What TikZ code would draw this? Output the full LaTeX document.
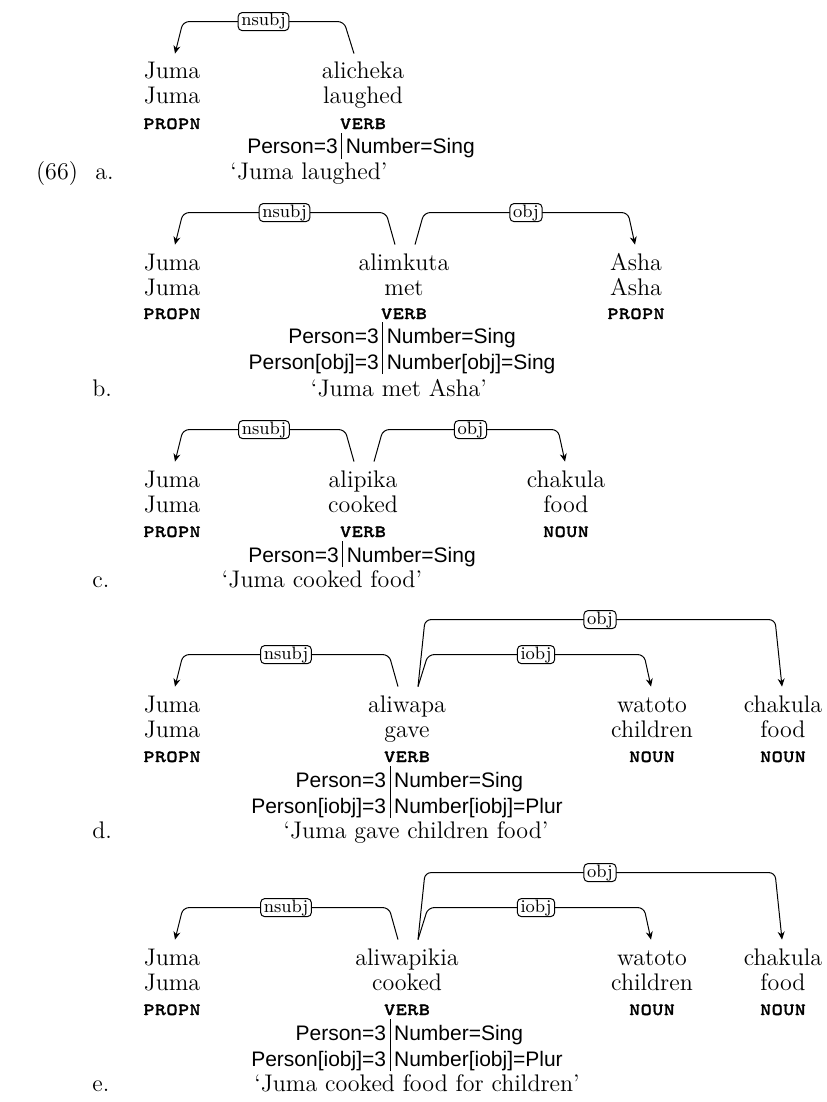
\documentclass[tikz,border=0pt]{standalone}
\usepackage{fontspec}
\setsansfont{Liberation Sans}
\newfontfamily\posfamily{lmmonocaps10-regular.otf}[FakeBold=1.5]
\usetikzlibrary{arrows.meta,calc}
\setlength{\tabcolsep}{2pt}
\renewcommand{\arraystretch}{0}
\newcommand\fstrut{\rule[-2.5pt]{0pt}{13pt}}
\newcommand\wordsize{\fontsize{12}{13}\selectfont}
\newcommand\featsize{\sffamily\fontsize{10.5}{13}\selectfont}
\newcommand\possize{\posfamily\fontsize{11}{12}\selectfont}
\newcommand\relsize{\fontsize{9}{10}\selectfont}
\tikzset{
  tok/.style={anchor=base, inner sep=0pt, font=\wordsize, text height=8.5pt},
  gl/.style={anchor=base, inner sep=0pt, font=\wordsize},
  upos/.style={anchor=base, inner sep=0pt, font=\possize},
  feat/.style={anchor=base, inner sep=0pt, font=\featsize},
  dep/.style={-{Stealth[length=4pt,width=3.5pt]}, rounded corners=3pt, line width=0.5pt},
  rel/.style={draw, fill=white, rounded corners=2pt, inner xsep=1.6pt, inner ysep=0.5pt, font=\relsize, text height=6.2pt, text depth=1.8pt}
}
\begin{document}
\begin{tikzpicture}[x=0.5pt,y=-0.5pt]
\useasboundingbox (0,0) rectangle (826,1102);
% (66a)
\node[gl] (ex) at (57,179) {(66)};
\node[gl, anchor=base west] (la) at (95,179) {a.};
\node[tok] (a1) at (172,79) {Juma};
\node[gl] (a1g) at (172,104) {Juma};
\node[upos] (a1p) at (172,129) {propn};
\node[tok] (a2) at (363,79) {alicheka};
\node[gl] (a2g) at (363,104) {laughed};
\node[upos] (a2p) at (363,129) {verb};
\node[feat] (a2f) at (361,154) {\begin{tabular}[t]{r|l}\fstrut Person=3 & Number=Sing\end{tabular}};
\node[gl] (at) at (309,179) {‘Juma laughed’};
\draw[dep] ($(a2.north)+(-9,-8)$) -- ++(-10,-32) -- node[rel]{nsubj} ($(a1.north)+(11,-40)$) -- ($(a1.north)+(3,-8)$);
% (66b)
\node[gl, anchor=base west] (lb) at (92,396) {b.};
\node[tok] (b1) at (172,270) {Juma};
\node[gl] (b1g) at (172,295) {Juma};
\node[upos] (b1p) at (172,319) {propn};
\node[tok] (b2) at (404,270) {alimkuta};
\node[gl] (b2g) at (404,295) {met};
\node[upos] (b2p) at (404,319) {verb};
\node[feat] (b2f) at (402,343) {\begin{tabular}[t]{r|l}\fstrut Person=3 & Number=Sing\\ \fstrut Person[obj]=3 & Number[obj]=Sing\end{tabular}};
\node[tok] (b3) at (636,270) {Asha};
\node[gl] (b3g) at (636,295) {Asha};
\node[upos] (b3p) at (636,319) {propn};
\node[gl] (bt) at (399,396) {‘Juma met Asha’};
\draw[dep] ($(b2.north)+(-9,-8)$) -- ++(-9,-32) -- node[rel]{nsubj} ($(b1.north)+(11,-40)$) -- ($(b1.north)+(3,-8)$);
\draw[dep] ($(b2.north)+(11,-8)$) -- ++(9,-32) -- node[rel]{obj} ($(b3.north)+(-8,-40)$) -- ($(b3.north)+(-1,-8)$);
% (66c)
\node[gl, anchor=base west] (lc) at (92,587) {c.};
\node[tok] (c1) at (172,487) {Juma};
\node[gl] (c1g) at (172,512) {Juma};
\node[upos] (c1p) at (172,537) {propn};
\node[tok] (c2) at (363,487) {alipika};
\node[gl] (c2g) at (363,512) {cooked};
\node[upos] (c2p) at (363,537) {verb};
\node[feat] (c2f) at (362,562) {\begin{tabular}[t]{r|l}\fstrut Person=3 & Number=Sing\end{tabular}};
\node[tok] (c3) at (566,487) {chakula};
\node[gl] (c3g) at (566,512) {food};
\node[upos] (c3p) at (566,537) {noun};
\node[gl] (ct) at (322,587) {‘Juma cooked food’};
\draw[dep] ($(c2.north)+(-9,-8)$) -- ++(-9,-32) -- node[rel]{nsubj} ($(c1.north)+(11,-40)$) -- ($(c1.north)+(3,-8)$);
\draw[dep] ($(c2.north)+(11,-8)$) -- ++(9,-32) -- node[rel]{obj} ($(c3.north)+(-8,-40)$) -- ($(c3.north)+(-1,-8)$);
% (66d)
\node[gl, anchor=base west] (ld) at (92,838) {d.};
\node[tok] (d1) at (172,712) {Juma};
\node[gl] (d1g) at (172,737) {Juma};
\node[upos] (d1p) at (172,762) {propn};
\node[tok] (d2) at (407,712) {aliwapa};
\node[gl] (d2g) at (407,737) {gave};
\node[upos] (d2p) at (407,762) {verb};
\node[feat] (d2f) at (407,787) {\begin{tabular}[t]{r|l}\fstrut Person=3 & Number=Sing\\ \fstrut Person[iobj]=3 & Number[iobj]=Plur\end{tabular}};
\node[tok] (d3) at (652,712) {watoto};
\node[gl] (d3g) at (652,737) {children};
\node[upos] (d3p) at (652,762) {noun};
\node[tok] (d4) at (783,712) {chakula};
\node[gl] (d4g) at (783,737) {food};
\node[upos] (d4p) at (783,762) {noun};
\node[gl] (dt) at (416,838) {‘Juma gave children food’};
\draw[dep] ($(d2.north)+(-9,-8)$) -- ++(-9,-32) -- node[rel]{nsubj} ($(d1.north)+(11,-40)$) -- ($(d1.north)+(3,-8)$);
\draw[dep] ($(d2.north)+(11,-8)$) -- ++(10,-32) -- node[rel]{iobj} ($(d3.north)+(-8,-40)$) -- ($(d3.north)+(-1,-8)$);
\draw[dep] ($(d2.north)+(11,-8)$) -- ++(7,-67) -- node[rel]{obj} ($(d4.north)+(-8,-75)$) -- ($(d4.north)+(-1,-8)$);
% (66e)
\node[gl, anchor=base west] (le) at (92,1091) {e.};
\node[tok] (e1) at (172,965) {Juma};
\node[gl] (e1g) at (172,990) {Juma};
\node[upos] (e1p) at (172,1015) {propn};
\node[tok] (e2) at (407,965) {aliwapikia};
\node[gl] (e2g) at (407,990) {cooked};
\node[upos] (e2p) at (407,1015) {verb};
\node[feat] (e2f) at (407,1040) {\begin{tabular}[t]{r|l}\fstrut Person=3 & Number=Sing\\ \fstrut Person[iobj]=3 & Number[iobj]=Plur\end{tabular}};
\node[tok] (e3) at (652,965) {watoto};
\node[gl] (e3g) at (652,990) {children};
\node[upos] (e3p) at (652,1015) {noun};
\node[tok] (e4) at (783,965) {chakula};
\node[gl] (e4g) at (783,990) {food};
\node[upos] (e4p) at (783,1015) {noun};
\node[gl] (et) at (417,1091) {‘Juma cooked food for children’};
\draw[dep] ($(e2.north)+(-9,-8)$) -- ++(-9,-32) -- node[rel]{nsubj} ($(e1.north)+(11,-40)$) -- ($(e1.north)+(3,-8)$);
\draw[dep] ($(e2.north)+(11,-8)$) -- ++(10,-32) -- node[rel]{iobj} ($(e3.north)+(-8,-40)$) -- ($(e3.north)+(-1,-8)$);
\draw[dep] ($(e2.north)+(11,-8)$) -- ++(7,-67) -- node[rel]{obj} ($(e4.north)+(-8,-75)$) -- ($(e4.north)+(-1,-8)$);
\end{tikzpicture}
\end{document}
